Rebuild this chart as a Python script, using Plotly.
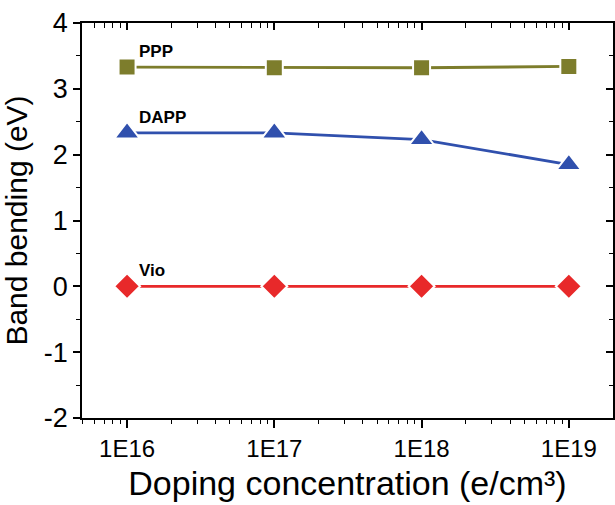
import plotly.graph_objects as go
import numpy as np

doping = [1e16, 1e17, 1e18, 1e19]
ppp = [3.33, 3.32, 3.32, 3.34]
dapp = [2.33, 2.33, 2.23, 1.85]
vio = [0.0, 0.0, 0.0, 0.0]
x_ticktext = ["1E16", "1E17", "1E18", "1E19"]
y_ticks = [-2, -1, 0, 1, 2, 3, 4]
y_ticktext = ["-2", "-1", "0", "1", "2", "3", "4"]

xr = [15.694, 19.3]
yr = [-2, 4]
minor_x = [m * 10.0 ** e for e in range(15, 20) for m in range(2, 10)]
minor_x = [v for v in minor_x if 10 ** xr[0] <= v <= 10 ** xr[1]]
minor_y = [-1.5, -0.5, 0.5, 1.5, 2.5, 3.5]

fig = go.Figure()
series = [
    ("PPP", ppp, "#7d7d2c", "square", 17),
    ("DAPP", dapp, "#3050ad", "triangle-up", 22),
    ("Vio", vio, "#e8292a", "diamond", 20),
]
for name, ys, col, sym, sz in series:
    fig.add_trace(go.Scatter(
        x=doping, y=ys, mode="lines+markers", name=name,
        line=dict(color=col, width=2.8),
        marker=dict(symbol=sym, size=sz, color=col, line=dict(color="white", width=2)),
        showlegend=False,
    ))
    fig.add_annotation(x=np.log10(doping[0]), y=ys[0], text="<b>%s</b>" % name,
                       showarrow=False, xanchor="left", yanchor="bottom",
                       xshift=10, yshift=4, font=dict(size=17, color="black"))

# invisible trace for mirrored (inside-tick) axes
fig.add_trace(go.Scatter(x=[doping[0]], y=[0], xaxis="x2", yaxis="y2", mode="markers",
                         marker=dict(opacity=0), showlegend=False, hoverinfo="skip"))

font_family = "Liberation Sans, Arial, sans-serif"
fig.update_layout(
    width=615, height=505,
    margin=dict(l=82, r=2, t=23, b=87),
    plot_bgcolor="white", paper_bgcolor="white",
    font=dict(family=font_family, color="black"),
    xaxis=dict(type="log", range=xr, tickvals=doping, ticktext=x_ticktext,
               ticks="outside", ticklen=8, tickwidth=1.5, tickcolor="black",
               showline=True, linecolor="black", linewidth=1.5, showgrid=False, zeroline=False,
               tickfont=dict(size=24),
               minor=dict(tickvals=minor_x, ticks="outside", ticklen=4, tickwidth=1.2, tickcolor="black", showgrid=False),
               title=dict(text="Doping concentration (e/cm³)", font=dict(size=34), standoff=11)),
    yaxis=dict(range=yr, tickvals=y_ticks, ticktext=y_ticktext, ticks="outside", ticklen=7, tickwidth=1.5, tickcolor="black",
               showline=True, linecolor="black", linewidth=1.5, showgrid=False, zeroline=False,
               tickfont=dict(size=27),
               minor=dict(tickvals=minor_y, ticks="outside", ticklen=4, tickwidth=1.2, tickcolor="black", showgrid=False),
               title=dict(text="Band bending (eV)", font=dict(size=30), standoff=11)),
    xaxis2=dict(type="log", range=xr, overlaying="x", side="top", tickvals=doping,
                showticklabels=False, ticks="inside", ticklen=7, tickwidth=1.5, tickcolor="black",
                showline=True, linecolor="black", linewidth=1.5, showgrid=False, zeroline=False,
                minor=dict(tickvals=minor_x, ticks="inside", ticklen=5, tickwidth=1.2, tickcolor="black", showgrid=False)),
    yaxis2=dict(range=yr, overlaying="y", side="right", tickvals=y_ticks,
                showticklabels=False, ticks="inside", ticklen=7, tickwidth=1.5, tickcolor="black",
                showline=True, linecolor="black", linewidth=1.5, showgrid=False, zeroline=False,
                minor=dict(tickvals=minor_y, ticks="inside", ticklen=4, tickwidth=1.2, tickcolor="black", showgrid=False)),
)

fig.write_html("out.html")
